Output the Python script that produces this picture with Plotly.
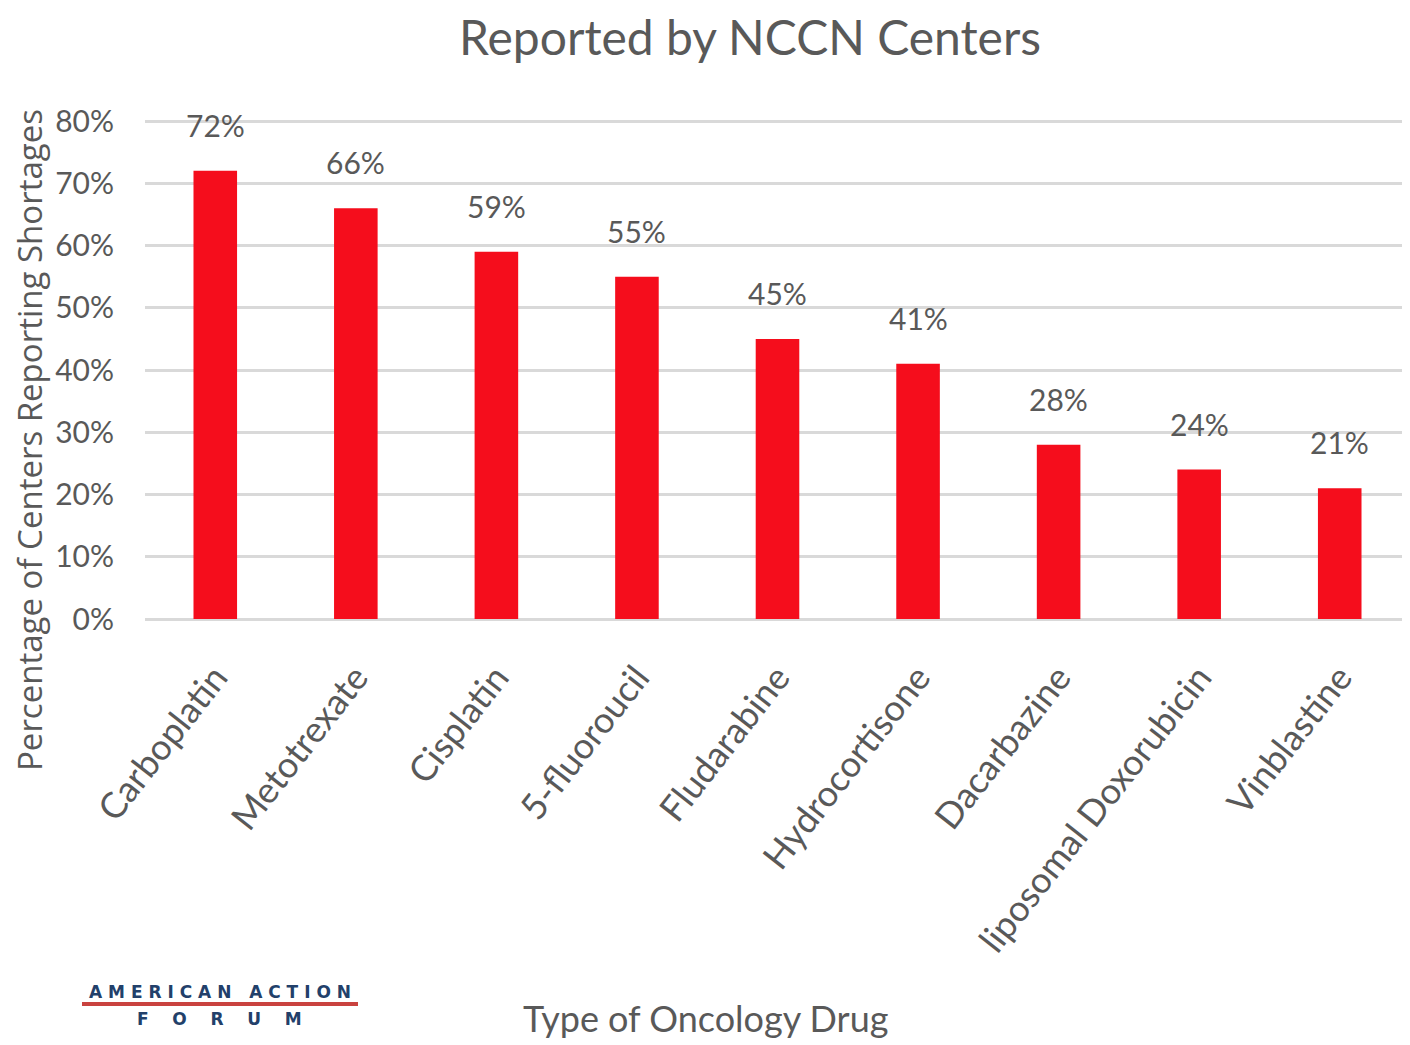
import plotly.graph_objects as go

drugs = ["Carboplatin", "Metotrexate", "Cisplatin", "5-fluoroucil", "Fludarabine",
         "Hydrocortisone", "Dacarbazine", "liposomal Doxorubicin", "Vinblastine"]
shares = [0.72, 0.66, 0.59, 0.55, 0.45, 0.41, 0.28, 0.24, 0.21]
labels = ["72%", "66%", "59%", "55%", "45%", "41%", "28%", "24%", "21%"]
y_ticks = [0, 0.1, 0.2, 0.3, 0.4, 0.5, 0.6, 0.7, 0.8]
y_tick_text = ["0%", "10%", "20%", "30%", "40%", "50%", "60%", "70%", "80%"]

font_main = "Lato, Liberation Sans, sans-serif"
grey = "#595959"

# the page body adds an 8px offset; compensate so the picture lines up
W, H = 1402, 1037
L, T, B = 137, 107, 426
plot_h = H - T - B  # 504
y_top = 0.8 * plot_h / 498

def py(page_y):
    """paper y fraction from a page pixel row"""
    return (619 - page_y) / plot_h

def px(page_x):
    return (page_x - 145) / (W - L)

fig = go.Figure(go.Bar(
    x=drugs, y=shares,
    marker=dict(color="#f50d1c", line=dict(width=0)),
    cliponaxis=False, hoverinfo="x+y",
))

for d, v, lab in zip(drugs, shares, labels):
    fig.add_annotation(x=d, y=v, text=lab, showarrow=False, xanchor="center",
                       yanchor="middle", yshift=46,
                       font=dict(family=font_main, size=30, color=grey))

fig.update_layout(
    width=W, height=H,
    margin=dict(l=L, r=0, t=T, b=B, autoexpand=False),
    paper_bgcolor="white", plot_bgcolor="white",
    bargap=0.69,
    showlegend=False,
    title=dict(text="Reported by NCCN Centers", xref="container", x=(750 - 8) / W,
               xanchor="center", y=1 - (38 - 8) / H, yanchor="middle",
               font=dict(family=font_main, size=48, color=grey)),
    xaxis=dict(tickangle=-52, tickfont=dict(family=font_main, size=36, color=grey),
               showgrid=False, showline=False, ticks="outside", ticklen=22,
               tickcolor="rgba(0,0,0,0)", automargin=False),
    yaxis=dict(range=[0, y_top], tickvals=y_ticks, ticktext=y_tick_text,
               tickfont=dict(family=font_main, size=30, color=grey),
               showgrid=True, gridcolor="#d9d9d9", gridwidth=3,
               zeroline=True, zerolinecolor="#d9d9d9", zerolinewidth=3,
               ticks="", ticklabelstandoff=30, automargin=False),
)

# y-axis title (placed lower than the plot centre, as in the reference)
fig.add_annotation(text="Percentage of Centers Reporting Shortages", xref="paper",
                   yref="paper", x=px(30), y=py(440), textangle=-90,
                   showarrow=False, xanchor="center", yanchor="middle",
                   font=dict(family="Open Sans", size=33, color=grey))

# x-axis title
fig.add_annotation(text="Type of Oncology Drug", xref="paper", yref="paper",
                   x=px(705), y=py(1018), showarrow=False,
                   xanchor="center", yanchor="middle",
                   font=dict(family=font_main, size=36, color=grey))

# logo
navy = "#22406a"
fig.add_annotation(text="<b>A M E R I C A N   A C T I O N</b>", xref="paper", yref="paper",
                   x=px(220), y=py(992), showarrow=False,
                   xanchor="center", yanchor="middle",
                   font=dict(family="DejaVu Sans", size=17, color=navy))
fig.add_annotation(text="<b>F    O    R    U    M</b>", xref="paper", yref="paper",
                   x=px(219), y=py(1019), showarrow=False,
                   xanchor="center", yanchor="middle",
                   font=dict(family="DejaVu Sans", size=17, color=navy))
fig.add_shape(type="line", xref="paper", yref="paper",
              x0=px(82), x1=px(358), y0=py(1004), y1=py(1004),
              line=dict(color="#c9423f", width=4))

fig.write_html("out.html")
